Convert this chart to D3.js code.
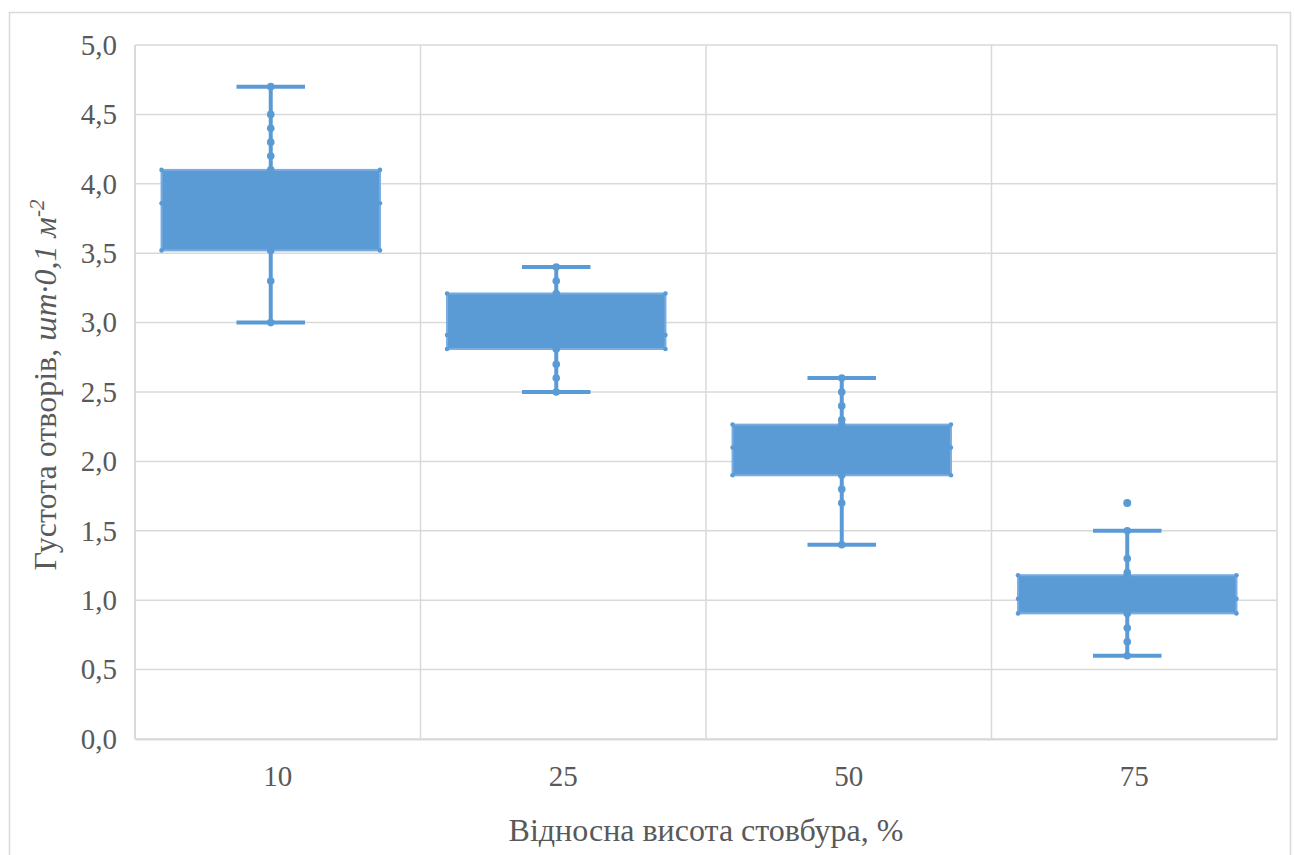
<!DOCTYPE html>
<html>
<head>
<meta charset="utf-8">
<script src="https://cdn.jsdelivr.net/npm/d3@7"></script>
<style>
  html, body { margin: 0; padding: 0; background: #fff; }
  .t1 { font-family: 'Liberation Serif', 'Times New Roman', serif; }
</style>
</head>
<body>
<div id="chart"></div>
<script>
// ---- data ----
const categories = ["10", "25", "50", "75"];
const q1Values = [3.52, 2.81, 1.90, 0.905];
const q3Values = [4.10, 3.21, 2.265, 1.18];
const midValues = [3.86, 2.91, 2.10, 1.01];
const whiskerLow = [3.0, 2.5, 1.4, 0.6];
const whiskerHigh = [4.7, 3.4, 2.6, 1.5];
const innerPoints = [
  [4.5, 4.4, 4.3, 4.2, 3.3],
  [3.3, 2.7, 2.6],
  [2.5, 2.4, 2.3, 1.8, 1.7],
  [1.3, 1.2, 0.8, 0.7]
];
const outliers = [[], [], [], [1.7]];
const yTicks = [0, 0.5, 1.0, 1.5, 2.0, 2.5, 3.0, 3.5, 4.0, 4.5, 5.0];

// ---- layout ----
const W = 1295, H = 855;
const plot = { left: 135, right: 1277, top: 45, bottom: 739 };
const blue = "#5B9BD5";
const grid = "#d9d9d9";
const textCol = "#595959";
const fs = 29;
const fsTitle = 32;

const svg = d3.select("#chart").append("svg").attr("width", W).attr("height", H);

svg.append("rect").attr("x", 9.5).attr("y", 12.5).attr("width", 1281).attr("height", 860)
  .attr("fill", "#fff").attr("stroke", grid).attr("stroke-width", 1.5);

const x = d3.scaleBand().domain(categories).range([plot.left, plot.right]).padding(0);
const y = d3.scaleLinear().domain([0, 5]).range([plot.bottom, plot.top]);

const fmt = d => d.toFixed(1).replace(".", ",");

svg.append("g").selectAll("line").data(yTicks).join("line")
  .attr("x1", plot.left).attr("x2", plot.right)
  .attr("y1", d => y(d)).attr("y2", d => y(d))
  .attr("stroke", grid).attr("stroke-width", 1.5);

const seps = categories.map(c => x(c)).concat([plot.right]);
svg.append("g").selectAll("line").data(seps).join("line")
  .attr("x1", d => d).attr("x2", d => d)
  .attr("y1", plot.top).attr("y2", plot.bottom)
  .attr("stroke", grid).attr("stroke-width", 1.5);

const yAxis = d3.axisLeft(y).tickValues(yTicks).tickFormat(fmt).tickSize(0).tickPadding(18);
const gy = svg.append("g").attr("transform", `translate(${plot.left},0)`).call(yAxis);
gy.select(".domain").remove();
gy.attr("font-family", null);
gy.selectAll("text").attr("class", "t1").attr("font-size", fs).attr("fill", textCol);

const xAxis = d3.axisBottom(x).tickSize(0).tickPadding(26);
const gx = svg.append("g").attr("transform", `translate(0,${plot.bottom})`).call(xAxis);
gx.attr("font-family", null);
gx.select(".domain").attr("stroke", grid).attr("stroke-width", 2);
gx.selectAll("text").attr("class", "t1").attr("font-size", fs).attr("fill", textCol);
svg.append("line").attr("x1", plot.left).attr("x2", plot.left)
  .attr("y1", plot.top).attr("y2", plot.bottom).attr("stroke", grid).attr("stroke-width", 2);

const bw = x.bandwidth();
const boxW = bw * 0.765;
const capW = bw * 0.24;
const shift = -7;
const cx = c => x(c) + bw / 2 + shift;

const g = svg.append("g");
categories.forEach((c, i) => {
  const xc = cx(c);
  g.append("line").attr("x1", xc).attr("x2", xc)
    .attr("y1", y(whiskerLow[i])).attr("y2", y(whiskerHigh[i]))
    .attr("stroke", blue).attr("stroke-width", 4);
  [whiskerLow[i], whiskerHigh[i]].forEach(v => {
    g.append("line").attr("x1", xc - capW / 2).attr("x2", xc + capW / 2)
      .attr("y1", y(v)).attr("y2", y(v))
      .attr("stroke", blue).attr("stroke-width", 4);
  });
  g.append("rect").attr("x", xc - boxW / 2).attr("y", y(q3Values[i]))
    .attr("width", boxW).attr("height", y(q1Values[i]) - y(q3Values[i]))
    .attr("fill", blue).attr("stroke", "#79ace0").attr("stroke-width", 2);
  [q1Values[i], q3Values[i], midValues[i]].forEach(v => {
    [xc - boxW / 2, xc + boxW / 2].forEach(px => {
      g.append("circle").attr("cx", px).attr("cy", y(v)).attr("r", 2.3).attr("fill", blue);
    });
  });
  const pts = innerPoints[i].concat([whiskerLow[i], whiskerHigh[i], q1Values[i], q3Values[i]]);
  g.selectAll(null).data(pts).join("circle")
    .attr("cx", xc).attr("cy", d => y(d)).attr("r", 3.8).attr("fill", blue);
  g.selectAll(null).data(outliers[i]).join("circle")
    .attr("cx", xc).attr("cy", d => y(d)).attr("r", 4).attr("fill", blue);
});

const yt = svg.append("text").attr("class", "t1")
  .attr("transform", `translate(56,385) rotate(-90)`)
  .attr("text-anchor", "middle").attr("font-size", fsTitle).attr("fill", textCol);
yt.append("tspan").text("Густота отворів, ");
yt.append("tspan").attr("font-style", "italic").text("шт·0,1 м");
yt.append("tspan").attr("font-style", "italic").attr("font-size", 21).attr("dy", -12).text("-2");

svg.append("text").attr("class", "t1").attr("x", (plot.left + plot.right) / 2).attr("y", 841)
  .attr("text-anchor", "middle").attr("font-size", fsTitle).attr("fill", textCol)
  .text("Відносна висота стовбура, %");
</script>
</body>
</html>
